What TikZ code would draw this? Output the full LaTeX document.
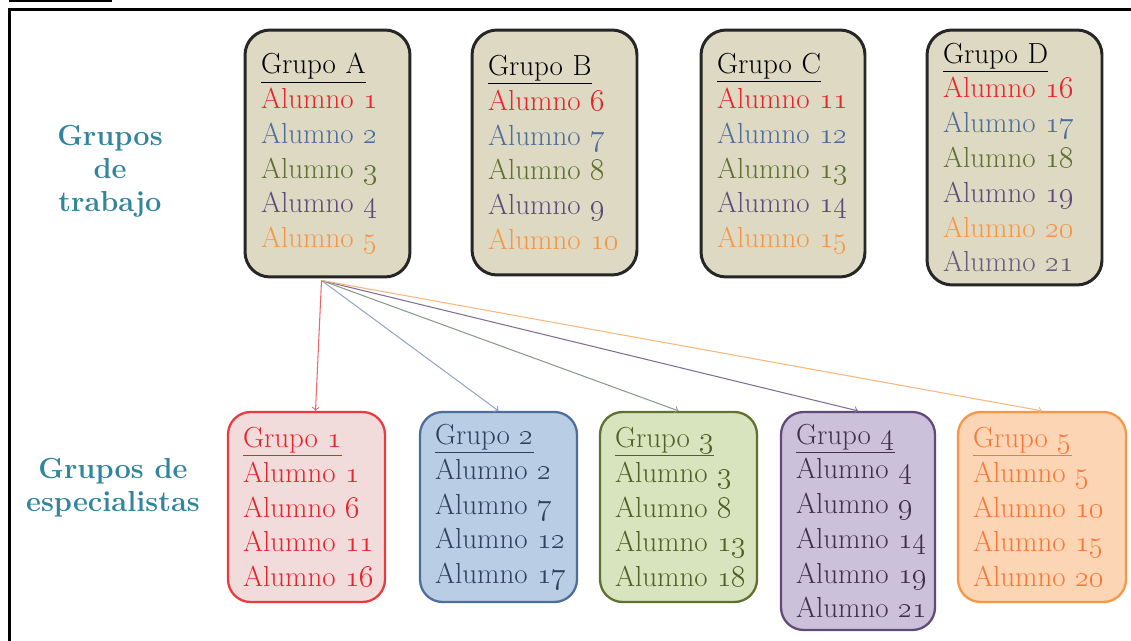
\documentclass[tikz,border=0pt]{standalone}
\usepackage{tikz}
\usetikzlibrary{calc}
\definecolor{crojo}{HTML}{E8242C}
\definecolor{cazul}{HTML}{4F6D9A}
\definecolor{cverde}{HTML}{5F7030}
\definecolor{cmorado}{HTML}{604A7B}
\definecolor{cnaranja}{HTML}{F79646}
\definecolor{cbeige}{HTML}{DDD9C3}
\definecolor{cborde}{HTML}{262626}
\definecolor{cteal}{HTML}{31859C}
\definecolor{frojo}{HTML}{F2DCDB}
\definecolor{fazul}{HTML}{B9CDE5}
\definecolor{fverde}{HTML}{D7E4BD}
\definecolor{fmorado}{HTML}{CCC1DA}
\definecolor{fnaranja}{HTML}{FCD5B5}
\newcommand\alumno[1]{Alumno~\oldstylenums{#1}}
\tikzset{
  trabajo/.style={draw=cborde,line width=1.7pt,fill=cbeige,rounded corners=0.5cm,
    align=left,inner xsep=0.32cm,inner ysep=2pt,font=\fontsize{16.5}{19.8}\selectfont},
  espec/.style={line width=1.3pt,rounded corners=0.45cm,align=left,inner xsep=0.3cm,
    inner ysep=2pt,minimum height=3.8cm,font=\fontsize{16.5}{19.8}\selectfont},
  rotulo/.style={align=center,text=cteal,font=\bfseries\fontsize{16.5}{18.7}\selectfont},
  flecha/.style={->,line width=0.6pt}
}
\begin{document}
\begin{tikzpicture}[x=0.02cm,y=-0.02cm]
\useasboundingbox (0,0) rectangle (1131,641);
% marco
\draw[line width=1.7pt] (9.5,641) -- (9.5,9.5) -- (1131,9.5);
\draw[line width=1.2pt] (9,1) -- (112,1);
% rotulos
\node[rotulo] (rtrab) at (110,171) {Grupos\\de\\trabajo};
\node[rotulo] (resp) at (113,488) {Grupos de\\especialistas};
% grupos de trabajo
\node[trabajo,text width=2.66cm,minimum height=4.94cm] (ga) at (327.5,153.5)
  {\underline{Grupo A}\\ \textcolor{crojo}{\alumno{1}}\\ \textcolor{cazul}{\alumno{2}}\\
   \textcolor{cverde}{\alumno{3}}\\ \textcolor{cmorado}{\alumno{4}}\\ \textcolor{cnaranja}{\alumno{5}}};
\node[trabajo,text width=2.66cm,minimum height=4.9cm] (gb) at (554.5,152.5)
  {\underline{Grupo B}\\ \textcolor{crojo}{\alumno{6}}\\ \textcolor{cazul}{\alumno{7}}\\
   \textcolor{cverde}{\alumno{8}}\\ \textcolor{cmorado}{\alumno{9}}\\ \textcolor{cnaranja}{\alumno{10}}};
\node[trabajo,text width=2.64cm,minimum height=4.94cm] (gc) at (783,153.5)
  {\underline{Grupo C}\\ \textcolor{crojo}{\alumno{11}}\\ \textcolor{cazul}{\alumno{12}}\\
   \textcolor{cverde}{\alumno{13}}\\ \textcolor{cmorado}{\alumno{14}}\\ \textcolor{cnaranja}{\alumno{15}}};
\node[trabajo,text width=2.86cm,minimum height=5.1cm] (gd) at (1014.5,157.5)
  {\underline{Grupo D}\\ \textcolor{crojo}{\alumno{16}}\\ \textcolor{cazul}{\alumno{17}}\\
   \textcolor{cverde}{\alumno{18}}\\ \textcolor{cmorado}{\alumno{19}}\\ \textcolor{cnaranja}{\alumno{20}}\\
   \textcolor{cmorado!70!gray}{\alumno{21}}};
% grupos de especialistas
\node[espec,draw=crojo!90!white,fill=frojo,text=crojo,text width=2.54cm] (g1) at (306.5,507)
  {\underline{Grupo \oldstylenums{1}}\\ \alumno{1}\\ \alumno{6}\\ \alumno{11}\\ \alumno{16}};
\node[espec,draw=cazul,fill=fazul,text=cazul!60!black,text width=2.54cm] (g2) at (498.5,507)
  {\underline{Grupo \oldstylenums{2}}\\ \alumno{2}\\ \alumno{7}\\ \alumno{12}\\ \alumno{17}};
\node[espec,draw=cverde,fill=fverde,text=cverde!85!black,text width=2.54cm] (g3) at (678.5,507)
  {\underline{Grupo \oldstylenums{3}}\\ \alumno{3}\\ \alumno{8}\\ \alumno{13}\\ \alumno{18}};
\node[espec,draw=cmorado,fill=fmorado,text=cmorado!65!black,text width=2.48cm,minimum height=4.36cm] (g4) at (858,521)
  {\underline{Grupo \oldstylenums{4}}\\ \alumno{4}\\ \alumno{9}\\ \alumno{14}\\ \alumno{19}\\ \alumno{21}};
\node[espec,draw=cnaranja,fill=fnaranja,text=cnaranja!80!red,text width=2.76cm] (g5) at (1042,507)
  {\underline{Grupo \oldstylenums{5}}\\ \alumno{5}\\ \alumno{10}\\ \alumno{15}\\ \alumno{20}};
% flechas
\coordinate (src) at ($(ga.south)+(-6,2)$);
\draw[flecha,crojo!70!white] (src) -- ($(g1.north)+(9,0)$);
\draw[flecha,cazul!60!white] (src) -- (g2.north);
\draw[flecha,cazul!40!cverde!70!white] (src) -- (g3.north);
\draw[flecha,cmorado!80!white] (src) -- (g4.north);
\draw[flecha,cnaranja!70!white] (src) -- (g5.north);
\end{tikzpicture}
\end{document}
